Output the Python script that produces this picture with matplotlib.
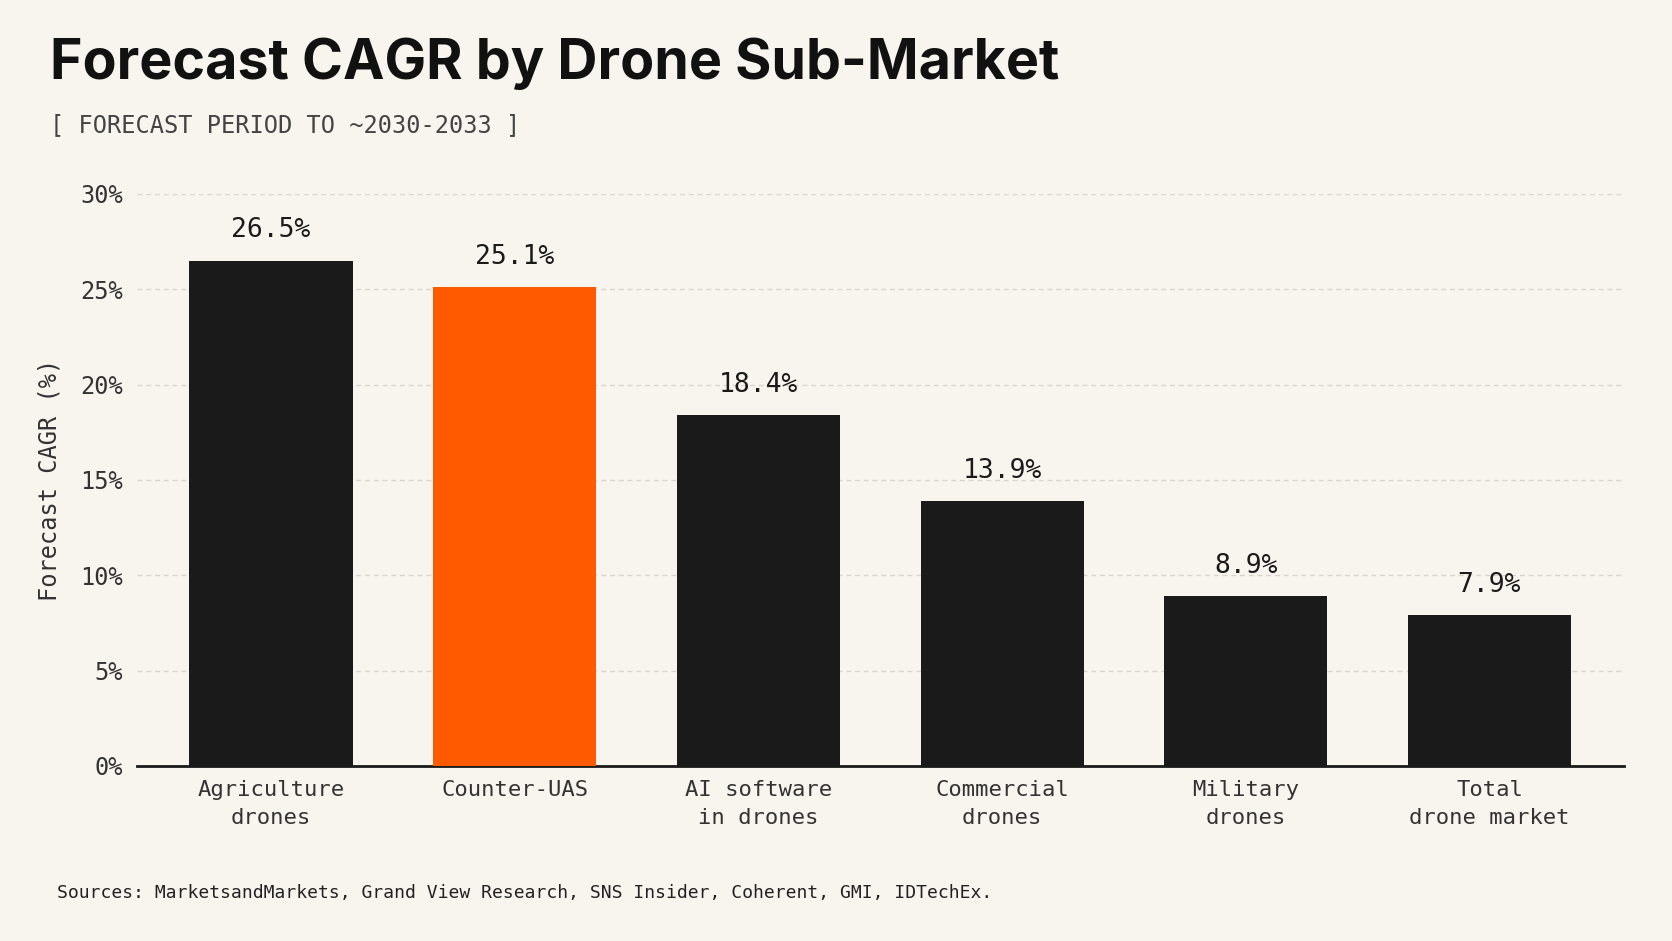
import matplotlib.pyplot as plt

categories = ["Agriculture\ndrones", "Counter-UAS", "AI software\nin drones",
              "Commercial\ndrones", "Military\ndrones", "Total\ndrone market"]
cagr = [26.5, 25.1, 18.4, 13.9, 8.9, 7.9]
highlight = "Counter-UAS"
yticks = [0, 5, 10, 15, 20, 25, 30]

BG = "#f8f5ef"
DARK = "#1a1a1a"
ORANGE = "#ff5a00"
MONO = "DejaVu Sans Mono"

fig = plt.figure(figsize=(16.72, 9.41), dpi=100, facecolor=BG)
ax = fig.add_axes([0.082, 0.186, 0.889, 0.608], facecolor=BG)

colors = [ORANGE if c == highlight else DARK for c in categories]
x = range(len(categories))
bars = ax.bar(x, cagr, width=0.67, color=colors, zorder=3)

for b, v in zip(bars, cagr):
    ax.text(b.get_x() + b.get_width() / 2, v + 0.9, f"{v:.1f}%", ha="center", va="bottom",
            fontsize=19, family=MONO, color=DARK)

ax.set_ylim(0, 30)
ax.set_xlim(-0.55, len(categories) - 0.45)
ax.set_yticks(yticks)
ax.set_yticklabels([f"{t}%" for t in yticks], family=MONO, fontsize=17, color="#333333")
ax.set_xticks(list(x))
ax.set_xticklabels(categories, family=MONO, fontsize=16, color="#333333", linespacing=1.5)
ax.tick_params(length=0, pad=10)
ax.yaxis.grid(True, linestyle=(0, (4, 3)), color="#d8d4cc", linewidth=0.9, zorder=0)
for s in ["top", "right", "left"]:
    ax.spines[s].set_visible(False)
ax.spines["bottom"].set_color(DARK)
ax.spines["bottom"].set_linewidth(2)
ax.set_ylabel("Forecast CAGR (%)", family=MONO, fontsize=17, color="#333333", labelpad=14)

fig.text(0.03, 0.932, "Forecast CAGR by Drone Sub-Market", fontsize=40, fontweight="bold",
         family="Inter", color="#111111", va="center")
fig.text(0.03, 0.867, "[ FORECAST PERIOD TO ~2030-2033 ]", fontsize=17, family=MONO,
         color="#444444", va="center")
fig.text(0.034, 0.051, "Sources: MarketsandMarkets, Grand View Research, SNS Insider, Coherent, GMI, IDTechEx.",
         fontsize=13, family=MONO, color="#222222", va="center")

fig.savefig("out.png", dpi=100, facecolor=BG)
